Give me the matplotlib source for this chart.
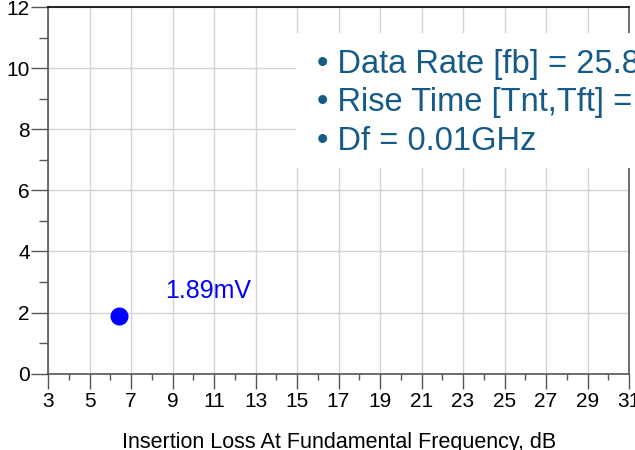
import matplotlib
matplotlib.use('Agg')
import matplotlib.pyplot as plt
from matplotlib.patches import Rectangle

plt.rcParams['font.family'] = ['Liberation Sans', 'DejaVu Sans']

# data
loss_db = [6.4]
amp_mv = [1.89]
point_label = '1.89mV'
x_major = list(range(3, 32, 2))
x_minor = list(range(4, 31, 2))
y_major = list(range(0, 13, 2))
y_minor = list(range(1, 12, 2))
info_lines = ['\u2022 Data Rate [fb] = 25.8',
              '\u2022 Rise Time [Tnt,Tft] =',
              '\u2022 Df = 0.01GHz']
xlabel = 'Insertion Loss At Fundamental Frequency, dB'

fig = plt.figure(figsize=(6.35, 4.5), dpi=100)
ax = fig.add_axes([48 / 635, 1 - 373.7 / 450, 581 / 635, 366.7 / 450])

ax.set_xlim(3, 31)
ax.set_ylim(0, 12)
ax.set_xticks(x_major)
ax.set_xticks(x_minor, minor=True)
ax.set_yticks(y_major)
ax.set_yticks(y_minor, minor=True)
ax.grid(True, which='major', color='#d3d3d3', lw=1.0)
ax.set_axisbelow(True)

for s in ['left', 'bottom', 'right']:
    ax.spines[s].set_color('#555555')
    ax.spines[s].set_linewidth(1.2)
ax.spines['top'].set_color('black')
ax.spines['top'].set_linewidth(1.2)

ax.tick_params(axis='x', which='major', direction='out', length=11, width=1, color='#555555',
               labelsize=15, pad=2.5)
ax.tick_params(axis='x', which='minor', direction='out', length=4.5, width=1, color='#555555')
ax.tick_params(axis='y', which='major', direction='out', length=12, width=1, color='#555555',
               labelsize=15, pad=1)
ax.tick_params(axis='y', which='minor', direction='out', length=6.5, width=1, color='#555555')

ax.plot(loss_db, amp_mv, 'o', color='#0000ff', markersize=12, zorder=5, clip_on=False)
ax.text(8.65, 2.48, point_label, color='#0000ff', fontsize=18, va='baseline')

# white info box with the simulation settings
fig.patches.append(Rectangle((296 / 635, 1 - 168 / 450), 1, 135 / 450,
                             transform=fig.transFigure, facecolor='white',
                             edgecolor='none', zorder=3))
for i, line in enumerate(info_lines):
    fig.text(317 / 635, 1 - (73 + 38.5 * i) / 450, line, color='#165b88',
             fontsize=23.5, va='baseline', zorder=4)

fig.text(339 / 635, 1 - 432 / 450, xlabel, ha='center', va='top', fontsize=15.5)

fig.savefig('out.png', dpi=100)
